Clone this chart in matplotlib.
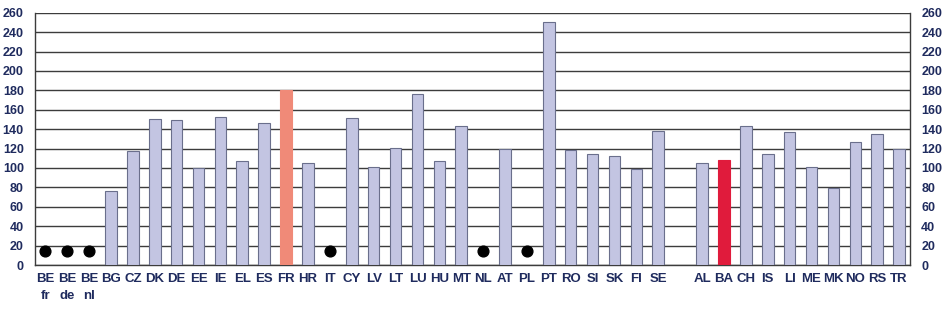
import matplotlib.pyplot as plt
import numpy as np

# Categorías ("" = hueco entre grupos)
paises = ["BE\nfr", "BE\nde", "BE\nnl", "BG", "CZ", "DK", "DE", "EE", "IE", "EL",
          "ES", "FR", "HR", "IT", "CY", "LV", "LT", "LU", "HU", "MT",
          "NL", "AT", "PL", "PT", "RO", "SI", "SK", "FI", "SE", "",
          "AL", "BA", "CH", "IS", "LI", "ME", "MK", "NO", "RS", "TR"]
valores = [None, None, None, 76, 117, 150, 149, 100, 152, 107,
           146, 180, 105, None, 151, 101, 121, 176, 107, 143,
           None, 120, None, 250, 119, 114, 112, 99, 138, None,
           105, 108, 143, 114, 137, 101, 79, 127, 135, 120]
sin_datos = ["BE\nfr", "BE\nde", "BE\nnl", "IT", "NL", "PL"]
destacados = {"FR": "#F08A78", "BA": "#E01B3C"}

color_barra = "#C3C5E2"
color_borde = "#6A6F8C"
color_texto = "#1F2B5E"
marca_sin_datos = 14

plt.rcParams['font.family'] = ['Liberation Sans', 'DejaVu Sans']

fig = plt.figure(figsize=(9.45, 3.17), dpi=100)
ax = fig.add_axes([0.037, 0.164, 0.926, 0.796])

x = np.arange(len(paises))
for i, (p, v) in enumerate(zip(paises, valores)):
    if v is None:
        continue
    c = destacados.get(p, color_barra)
    ax.bar(i, v, width=0.53, color=c, edgecolor=color_borde if p not in destacados else c,
           linewidth=0.8, zorder=3)

# puntos negros = sin datos
xs = [paises.index(p) for p in sin_datos]
ax.scatter(xs, [marca_sin_datos] * len(xs), s=60, color="black", zorder=4)

ax.set_xlim(-0.47, len(paises) - 0.5)
ax.set_ylim(0, 260)
ax.set_yticks(range(0, 261, 20))
ax.yaxis.grid(True, color="#3C3C3C", linewidth=1.0, zorder=0)
ax.set_axisbelow(True)

ax.spines["top"].set_visible(False)
for s in ["left", "right", "bottom"]:
    ax.spines[s].set_color("#3C3C3C")
    ax.spines[s].set_linewidth(1.0)

ax.set_xticks(x)
ax.set_xticklabels(paises, fontsize=9.5, fontweight="bold", color=color_texto,
                   linespacing=1.5, va="top")
ax.tick_params(axis="x", length=0, pad=6)
ax.tick_params(axis="y", length=0, pad=8, labelsize=9, labelcolor=color_texto)
for t in ax.get_yticklabels():
    t.set_fontweight("bold")

ax2 = ax.twinx()
ax2.set_ylim(0, 260)
ax2.set_yticks(range(0, 261, 20))
ax2.tick_params(axis="y", length=0, pad=8, labelsize=9, labelcolor=color_texto)
for t in ax2.get_yticklabels():
    t.set_fontweight("bold")
for s in ax2.spines.values():
    s.set_visible(False)

fig.savefig("out.png", dpi=100)
